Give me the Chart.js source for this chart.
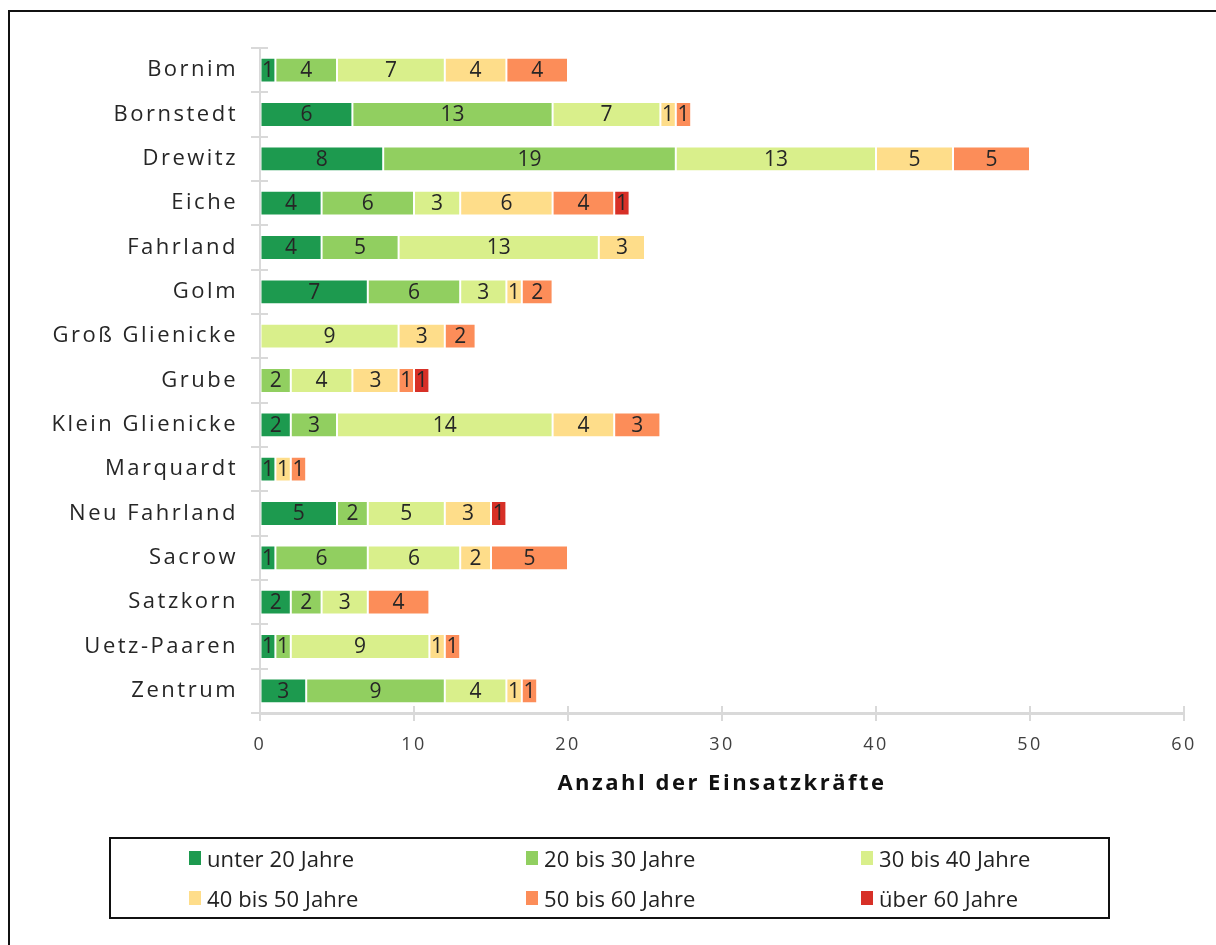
<!DOCTYPE html>
<html>
<head>
<meta charset="utf-8">
<script src="https://cdn.jsdelivr.net/npm/chart.js@4.4.1/dist/chart.umd.min.js"></script>
<style>
    body { margin: 0; background: #fff; }
    #wrap { position: relative; width: 1216px; height: 945px; overflow: hidden; }
    #frame { position: absolute; left: 8px; top: 10px; width: 1300px; height: 1000px; border: 2px solid #111; }
    #chart { position: absolute; left: 0; top: 0; }
    #legend { position: absolute; left: 109px; top: 837px; width: 997px; height: 78px; border: 2px solid #111;
              font-family: "Open Sans", sans-serif; font-size: 22px; letter-spacing: 0.1px; color: #222; }
    .item { position: absolute; display: flex; align-items: center; height: 28px; white-space: nowrap; }
    .sw { width: 12px; height: 14px; margin-right: 6px; }
</style>
</head>
<body>
<div id="wrap">
    <div id="frame"></div>
    <canvas id="chart" width="1216" height="945"></canvas>
    <div id="legend"></div>
</div>
<script>
const categories = ['Bornim', 'Bornstedt', 'Drewitz', 'Eiche', 'Fahrland', 'Golm', 'Groß Glienicke', 'Grube',
    'Klein Glienicke', 'Marquardt', 'Neu Fahrland', 'Sacrow', 'Satzkorn', 'Uetz-Paaren', 'Zentrum'];

const seriesLabels = ['unter 20 Jahre', '20 bis 30 Jahre', '30 bis 40 Jahre', '40 bis 50 Jahre', '50 bis 60 Jahre', 'über 60 Jahre'];
const seriesColors = ['#1d9a4f', '#91cf60', '#d9ef8b', '#fedd8a', '#fc8d59', '#d73027'];

const under20   = [1, 6, 8, 4, 4, 7, 0, 0, 2, 1, 5, 1, 2, 1, 3];
const age20to30 = [4, 13, 19, 6, 5, 6, 0, 2, 3, 0, 2, 6, 2, 1, 9];
const age30to40 = [7, 7, 13, 3, 13, 3, 9, 4, 14, 0, 5, 6, 3, 9, 4];
const age40to50 = [4, 1, 5, 6, 3, 1, 3, 3, 4, 1, 3, 2, 0, 1, 1];
const age50to60 = [4, 1, 5, 4, 0, 2, 2, 1, 3, 1, 0, 5, 4, 1, 1];
const over60    = [0, 0, 0, 1, 0, 0, 0, 1, 0, 0, 1, 0, 0, 0, 0];

const xTicks = [0, 10, 20, 30, 40, 50, 60];
const xTitle = 'Anzahl der Einsatzkräfte';

const seriesValues = [under20, age20to30, age30to40, age40to50, age50to60, over60];
const FONT = '"Open Sans", sans-serif';
const AXIS_GREY = '#d9d9d9';

// labels in the middle of each segment
const segmentLabels = {
    id: 'segmentLabels',
    afterDatasetsDraw(chart) {
        const ctx = chart.ctx;
        ctx.save();
        ctx.letterSpacing = '0px';
        ctx.font = '21px ' + FONT;
        ctx.fillStyle = '#262626';
        ctx.textAlign = 'center';
        ctx.textBaseline = 'middle';
        chart.data.datasets.forEach((ds, i) => {
            chart.getDatasetMeta(i).data.forEach((bar, j) => {
                const v = ds.data[j];
                if (!v) return;
                const p = bar.getProps(['x', 'y', 'base'], true);
                ctx.fillText(String(v), (p.x + p.base) / 2, p.y + 1);
            });
        });
        ctx.restore();
    }
};

// tick marks that cross the axis lines
const crossTicks = {
    id: 'crossTicks',
    beforeDraw(chart) {
        chart.ctx.letterSpacing = '2.5px';
    },
    afterDraw(chart) {
        const ctx = chart.ctx;
        const xs = chart.scales.x, ys = chart.scales.y;
        ctx.save();
        ctx.strokeStyle = AXIS_GREY;
        ctx.lineWidth = 2;
        ctx.beginPath();
        xTicks.forEach(v => {
            const px = Math.round(xs.getPixelForValue(v));
            ctx.moveTo(px, xs.top - 7);
            ctx.lineTo(px, xs.top + 8);
        });
        const n = categories.length;
        for (let i = 0; i <= n; i++) {
            const py = Math.round(ys.top + i * ys.height / n);
            ctx.moveTo(ys.right - 9, py);
            ctx.lineTo(ys.right + 8, py);
        }
        ctx.stroke();
        ctx.restore();
    }
};

function buildLegend() {
    const box = document.getElementById('legend');
    const cols = [78, 415, 750];
    const rows = [5, 45];
    seriesLabels.forEach((label, i) => {
        const item = document.createElement('div');
        item.className = 'item';
        item.style.left = cols[i % 3] + 'px';
        item.style.top = rows[Math.floor(i / 3)] + 'px';
        item.innerHTML = `<span class="sw" style="background:${seriesColors[i]}"></span><span>${label}</span>`;
        box.appendChild(item);
    });
}

new Chart(document.getElementById('chart'), {
    type: 'bar',
    data: {
        labels: categories,
        datasets: seriesLabels.map((label, i) => ({
            label: label,
            data: seriesValues[i].map(v => v === 0 ? null : v),
            backgroundColor: seriesColors[i],
            borderColor: 'rgba(255,255,255,0.55)',
            borderWidth: 1,
            borderSkipped: false,
            categoryPercentage: 1,
            barPercentage: 0.56
        }))
    },
    options: {
        indexAxis: 'y',
        responsive: false,
        devicePixelRatio: 1,
        animation: false,
        layout: { padding: { left: 0, top: 48, right: 32, bottom: 145 } },
        plugins: {
            legend: { display: false },
            tooltip: { enabled: false }
        },
        scales: {
            x: {
                stacked: true,
                min: 0,
                max: 60,
                afterBuildTicks: scale => { scale.ticks = xTicks.map(v => ({ value: v })); },
                ticks: { font: { size: 18, family: FONT }, color: '#404040', padding: 21 },
                grid: { display: true, drawOnChartArea: false, drawTicks: false, color: AXIS_GREY },
                border: { display: true, color: AXIS_GREY, width: 3 },
                title: {
                    display: true,
                    text: xTitle,
                    font: { size: 22, weight: 'bold', family: FONT },
                    color: '#111',
                    padding: { top: 10, bottom: 3 }
                },
                afterFit: scale => { scale.height = 87; }
            },
            y: {
                stacked: true,
                ticks: { font: { size: 22, family: FONT }, color: '#262626', padding: 22 },
                grid: { display: true, drawOnChartArea: false, drawTicks: false, color: AXIS_GREY },
                border: { display: true, color: AXIS_GREY, width: 2 },
                afterFit: scale => { scale.width = 260; }
            }
        }
    },
    plugins: [segmentLabels, crossTicks]
});

buildLegend();
</script>
</body>
</html>
